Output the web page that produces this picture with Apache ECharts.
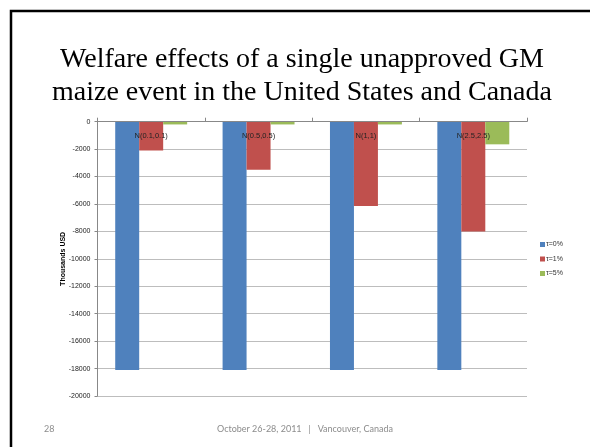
<!DOCTYPE html>
<html>
<head>
<meta charset="utf-8">
<script src="https://cdn.jsdelivr.net/npm/echarts@6/dist/echarts.min.js"></script>
<style>
html,body{margin:0;padding:0;background:#fff;}
#main{width:590px;height:447px;}
</style>
</head>
<body>
<div id="main"></div>
<script>
var categories = ['N(0.1,0.1)', 'N(0.5,0.5)', 'N(1,1)', 'N(2.5,2.5)'];
var seriesNames = ['τ=0%', 'τ=1%', 'τ=5%'];
var tau0 = [-18100, -18100, -18100, -18100];
var tau1 = [-2100, -3500, -6150, -8000];
var tau5 = [-200, -200, -200, -1650];
var colors = ['#4F81BD', '#C0504D', '#9BBB59'];

var chart = echarts.init(document.getElementById('main'), null, {renderer: 'canvas'});
var option = {
  animation: false,
  backgroundColor: '#fff',
  color: colors,
  title: {
    text: 'Welfare effects of a single unapproved GM\nmaize event in the United States and Canada',
    left: 297,
    textAlign: 'center',
    top: 38,
    textStyle: {
      fontFamily: 'Liberation Serif',
      fontWeight: 'normal',
      fontSize: 28,
      lineHeight: 33,
      color: '#000'
    }
  },
  graphic: [
    {type: 'rect', shape: {x: 11, y: 11, width: 600, height: 460}, style: {fill: 'none', stroke: '#000', lineWidth: 2.5}, silent: true},
    {type: 'text', left: 44, top: 425, style: {text: '28', fontFamily: 'Lato', fontSize: 9, fill: '#8c8c8c'}},
    {type: 'text', left: 217, top: 425, style: {text: 'October 26-28, 2011   |   Vancouver, Canada', fontFamily: 'Lato', fontSize: 9, fill: '#8c8c8c'}}
  ],
  legend: {
    orient: 'vertical',
    left: 535,
    top: 236,
    itemWidth: 5,
    itemHeight: 5,
    itemGap: 7.5,
    icon: 'rect',
    textStyle: {fontSize: 7, color: '#333', padding: [0, 0, 0, -4], fontFamily: 'Liberation Sans'},
    data: seriesNames
  },
  grid: {left: 97.5, right: 63, top: 121.7, bottom: 51},
  xAxis: {
    type: 'category',
    data: categories,
    position: 'top',
    z: 10,
    axisLine: {lineStyle: {color: '#888', width: 1}},
    axisTick: {show: true, length: 4, lineStyle: {color: '#888'}},
    axisLabel: {inside: true, margin: 10, fontSize: 7.5, color: '#222', fontFamily: 'Liberation Sans'},
    splitLine: {show: false}
  },
  yAxis: {
    type: 'value',
    min: -20000,
    max: 0,
    interval: 2000,
    name: 'Thousands USD',
    nameLocation: 'middle',
    nameGap: 31,
    nameMoveOverlap: false,
    nameTextStyle: {fontSize: 7, fontWeight: 'bold', color: '#000', fontFamily: 'Liberation Sans'},
    axisLine: {show: true, lineStyle: {color: '#888'}},
    axisTick: {show: true, length: 3, lineStyle: {color: '#888'}},
    axisLabel: {fontSize: 7, color: '#222', margin: 7, fontFamily: 'Liberation Sans', formatter: function (v) { return String(v); }},
    splitLine: {lineStyle: {color: '#bdbdbd', width: 1}}
  },
  series: [
    {name: seriesNames[0], type: 'bar', data: tau0, barGap: '0%', barCategoryGap: '33%'},
    {name: seriesNames[1], type: 'bar', data: tau1, barGap: '0%', barCategoryGap: '33%'},
    {name: seriesNames[2], type: 'bar', data: tau5, barGap: '0%', barCategoryGap: '33%'}
  ]
};
chart.setOption(option);
</script>
</body>
</html>
